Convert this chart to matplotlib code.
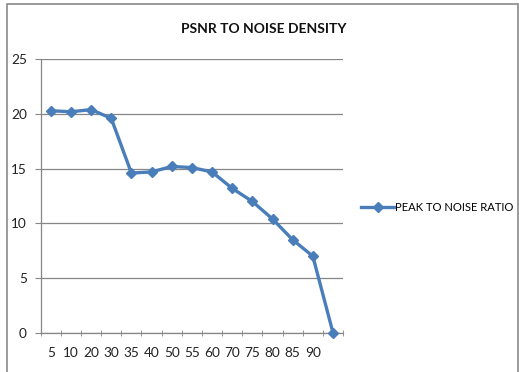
import matplotlib.pyplot as plt
from matplotlib.lines import Line2D
from matplotlib.patches import Rectangle

plt.rcParams['font.family'] = ['Lato', 'DejaVu Sans']

# noise density (%) categories and PSNR values
density_labels = ['5', '10', '20', '30', '35', '40', '50', '55', '60', '70', '75', '80', '85', '90', '']
psnr = [20.3, 20.2, 20.4, 19.6, 14.6, 14.7, 15.2, 15.1, 14.7, 13.2, 12.0, 10.4, 8.5, 7.0, 0.0]
y_ticks = [0, 5, 10, 15, 20, 25]

line_color = '#4a7ebb'
grid_color = '#868686'

fig = plt.figure(figsize=(5.19, 3.72), dpi=100)
ax = fig.add_axes([0.0784, 0.1056, 0.5826, 0.735])

pos = list(range(len(psnr)))
ax.plot(pos, psnr, color=line_color, lw=2.4, marker='D', ms=5.5,
        mec=line_color, mfc=line_color, zorder=3, clip_on=False)

ax.set_xlim(-0.5, len(psnr) - 0.5)
ax.set_ylim(0, 25)
ax.set_yticks(y_ticks)
ax.yaxis.grid(True, color=grid_color, lw=0.9)
ax.set_axisbelow(True)

# category labels centred, tick marks on the boundaries
ax.set_xticks(pos)
ax.set_xticklabels(density_labels, fontsize=9.8, color='#222222')
ax.tick_params(axis='x', which='major', length=0, pad=10)
ax.set_xticks([p - 0.5 for p in pos] + [len(psnr) - 0.5], minor=True)
ax.tick_params(axis='x', which='minor', length=4, color=grid_color, direction='inout')
ax.tick_params(axis='y', length=4, color=grid_color, labelsize=9.8, labelcolor='#222222', pad=6)

for side in ['top', 'right']:
    ax.spines[side].set_visible(False)
for side in ['left', 'bottom']:
    ax.spines[side].set_color(grid_color)
    ax.spines[side].set_linewidth(0.9)

fig.text(0.508, 0.922, 'PSNR TO NOISE DENSITY', ha='center', va='center',
         fontsize=10, fontweight='bold', color='#111111')

handle = Line2D([], [], color=line_color, lw=2.4, marker='D', ms=5.5)
fig.legend([handle], ['PEAK TO NOISE RATIO'], loc='center left',
           bbox_to_anchor=(0.683, 0.443), frameon=False, fontsize=8.1,
           handlelength=2.9, handletextpad=0.1, borderaxespad=0.2)

# outer chart frame
fig.patches.append(Rectangle((7 / 519, -0.05), 511 / 519, 1.039, transform=fig.transFigure,
                             fill=False, ec='#8a8a8a', lw=1.2))

fig.savefig('out.png', dpi=100)
